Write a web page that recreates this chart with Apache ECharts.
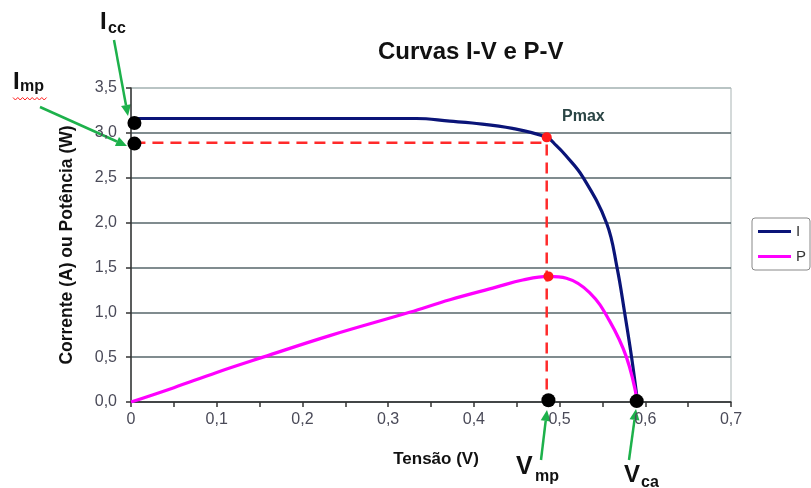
<!DOCTYPE html>
<html><head><meta charset="utf-8">
<script src="https://cdn.jsdelivr.net/npm/echarts@6/dist/echarts.min.js"></script>
<style>html,body{margin:0;padding:0;background:#fff}#c{width:811px;height:488px}</style>
</head><body><div id="c"></div><script>
// ---- data ----
const titleText = 'Curvas I-V e P-V';
const xAxisName = 'Tensão (V)';
const yAxisName = 'Corrente (A) ou Potência (W)';
const seriesNames = ['I', 'P'];

const voltageI = [0, 0.10, 0.20, 0.333, 0.372, 0.398, 0.445, 0.485, 0.496, 0.507, 0.527, 0.555, 0.567, 0.576, 0.584, 0.591];
const currentI = [3.16, 3.16, 3.16, 3.16, 3.13, 3.11, 3.05, 2.95, 2.86, 2.75, 2.51, 1.99, 1.50, 0.99, 0.50, 0.0];

const voltageP = [0, 0.05, 0.10, 0.154, 0.232, 0.325, 0.372, 0.426, 0.457, 0.487, 0.508, 0.535, 0.558, 0.578, 0.591];
const powerP   = [0, 0.16, 0.33, 0.50, 0.74, 1.00, 1.14, 1.28, 1.36, 1.40, 1.38, 1.22, 0.91, 0.50, 0.0];

// key points (Icc, Imp, Vmp, Vca) - black dots
const keyV = [0.004, 0.004, 0.487, 0.590];
const keyY = [3.11, 2.88, 0.02, 0.01];
// Pmax markers on I and P curves - red dots
const pmaxV = [0.485, 0.487];
const pmaxY = [2.95, 1.40];
// red dashed guide (Imp -> Pmax -> Vmp)
const guideV = [0.004, 0.485, 0.485];
const guideY = [2.89, 2.89, 0.0];

const xMin = 0, xMax = 0.7, xStep = 0.05;
const yMin = 0, yMax = 3.5, yStep = 0.5;

// ---- chart ----
const FONT = '"Liberation Sans", Arial, sans-serif';
const zip = (a, b) => a.map((v, i) => [v, b[i]]);
const chart = echarts.init(document.getElementById('c'), null, {renderer: 'canvas'});

const green = '#1db14b';
function arrow(x1, y1, x2, y2) {
  const dx = x2 - x1, dy = y2 - y1, L = Math.hypot(dx, dy);
  const ux = dx / L, uy = dy / L, hl = 11, hw = 5;
  const bx = x2 - ux * hl, by = y2 - uy * hl;
  return {
    type: 'group', z: 100, children: [
      {type: 'line', shape: {x1, y1, x2: bx, y2: by}, style: {stroke: green, lineWidth: 2.5}},
      {type: 'polygon', shape: {points: [[x2, y2], [bx - uy * hw, by + ux * hw], [bx + uy * hw, by - ux * hw]]}, style: {fill: green}}
    ]
  };
}
function txt(text, x, y, size) {
  return {type: 'text', z: 100, style: {text, x, y, fill: '#111', fontSize: size, fontWeight: 'bold', fontFamily: FONT, verticalAlign: 'middle'}};
}
const wave = [];
for (let k = 0; k <= 14; k++) wave.push([13 + k * 2.4, k % 2 ? 100 : 97.5]);

const splitColors = ['#56666a','#56666a','#56666a','#56666a','#56666a','#56666a','#56666a','#b0bcbc'];

chart.setOption({
  animation: false,
  backgroundColor: '#fff',
  textStyle: {fontFamily: FONT},
  title: {text: titleText, left: 378, top: 40, padding: 0,
    textStyle: {fontSize: 24, fontWeight: 'bold', color: '#111', fontFamily: FONT}},
  legend: {data: seriesNames, orient: 'vertical', left: 752, top: 218,
    padding: [6, 4, 6, 6], itemGap: 10, itemWidth: 33, itemHeight: 3, icon: 'rect',
    borderColor: '#888', borderWidth: 1, borderRadius: 3, backgroundColor: '#fff',
    textStyle: {fontSize: 15, color: '#333', fontFamily: FONT}},
  grid: {left: 131, right: 80, top: 88, bottom: 86, show: true, borderColor: '#a9b4b4', borderWidth: 1},
  xAxis: {type: 'value', min: xMin, max: xMax, interval: xStep,
    name: xAxisName, nameLocation: 'middle', nameGap: 49,
    nameTextStyle: {fontSize: 17, fontWeight: 'bold', color: '#111', fontFamily: FONT, padding: [0, 0, 0, 10]},
    axisLine: {show: true, lineStyle: {color: '#333', width: 1.5}},
    axisTick: {show: true, length: 5, lineStyle: {color: '#333', width: 1.5}},
    axisLabel: {margin: 10, fontSize: 16, color: '#4a4a58', fontFamily: FONT,
      formatter: v => { const k = Math.round(v * 100); if (k % 10 !== 0) return ''; if (k === 0) return '0'; return (k / 100).toFixed(1).replace('.', ','); }},
    splitLine: {show: false}},
  yAxis: {type: 'value', min: yMin, max: yMax, interval: yStep,
    name: yAxisName, nameLocation: 'middle', nameGap: 55,
    nameTextStyle: {fontSize: 17.5, fontWeight: 'bold', color: '#111', fontFamily: FONT},
    axisLine: {show: true, lineStyle: {color: '#333', width: 1.5}},
    axisTick: {show: true, length: 5, lineStyle: {color: '#333', width: 1.5}},
    axisLabel: {margin: 14, fontSize: 16, color: '#4a4a58', fontFamily: FONT,
      formatter: v => v.toFixed(1).replace('.', ',')},
    splitLine: {show: true, lineStyle: {color: splitColors, width: 1.6}}},
  series: [
    {name: 'guia', type: 'line', data: zip(guideV, guideY), showSymbol: false, symbol: 'none', z: 2,
      lineStyle: {color: '#ff2a2a', width: 2.5, type: [11, 7]}, silent: true},
    {name: seriesNames[0], type: 'line', data: zip(voltageI, currentI), showSymbol: false, symbol: 'none',
      smooth: 0.4, z: 3, color: '#0a1478', lineStyle: {color: '#0a1478', width: 3.2}},
    {name: seriesNames[1], type: 'line', data: zip(voltageP, powerP), showSymbol: false, symbol: 'none',
      smooth: 0.4, z: 3, color: '#ff00ff', lineStyle: {color: '#ff00ff', width: 3.2}},
    {name: 'Pmax', type: 'scatter', data: zip(pmaxV, pmaxY), symbolSize: 10, clip: false, z: 5,
      itemStyle: {color: '#ff1a1a', opacity: 1}, silent: true},
    {name: 'pontos', type: 'scatter', data: zip(keyV, keyY), symbolSize: 14, clip: false, z: 6,
      itemStyle: {color: '#000', opacity: 1}, silent: true}
  ],
  graphic: [
    {type: 'text', z: 100, style: {text: 'Pmax', x: 562, y: 117, fill: '#2b4545', fontSize: 16, fontWeight: 'bold', fontFamily: FONT, verticalAlign: 'middle'}},
    txt('I', 100, 22, 24), txt('cc', 108, 29, 16),
    txt('I', 13, 82, 24), txt('mp', 20, 87, 16),
    {type: 'polyline', z: 100, shape: {points: wave}, style: {stroke: '#ff2020', lineWidth: 1, fill: null}},
    txt('V', 516, 467, 25), txt('mp', 535, 477, 16),
    txt('V', 624, 475, 24), txt('ca', 641, 483, 16),
    arrow(114, 40, 128, 116),
    arrow(40, 107, 127, 146),
    arrow(541, 460, 547, 410),
    arrow(629, 460, 636, 409)
  ]
});
</script></body></html>
